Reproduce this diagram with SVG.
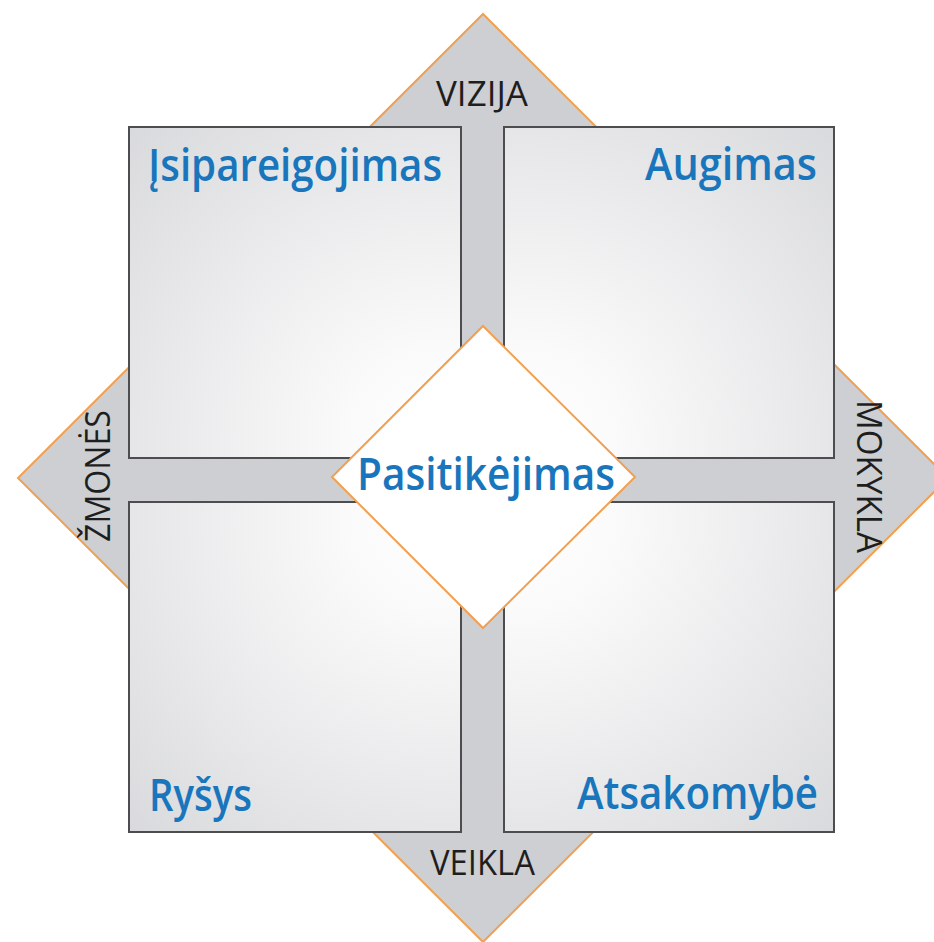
<svg xmlns="http://www.w3.org/2000/svg" width="934" height="942" viewBox="0 0 934 942">
  <style>
    .sq { stroke: #4d4d4f; stroke-width: 2; }
    .blue { font-family: "Open Sans", "Noto Sans", sans-serif; font-weight: 600; font-size: 46px; fill: #1976bc; }
    .dark { font-family: "Open Sans", "Noto Sans", sans-serif; font-size: 34px; fill: #1e1e1e; }
  </style>
  <defs>
    <radialGradient id="gTL" gradientUnits="userSpaceOnUse" cx="440" cy="440" r="470">
      <stop offset="0" stop-color="#ffffff"/>
      <stop offset="0.2" stop-color="#fafafa"/>
      <stop offset="1" stop-color="#d6d7da"/>
    </radialGradient>
    <radialGradient id="gTR" gradientUnits="userSpaceOnUse" cx="525" cy="440" r="470">
      <stop offset="0" stop-color="#ffffff"/>
      <stop offset="0.2" stop-color="#fafafa"/>
      <stop offset="1" stop-color="#d6d7da"/>
    </radialGradient>
    <radialGradient id="gBL" gradientUnits="userSpaceOnUse" cx="440" cy="520" r="470">
      <stop offset="0" stop-color="#ffffff"/>
      <stop offset="0.2" stop-color="#fafafa"/>
      <stop offset="1" stop-color="#d6d7da"/>
    </radialGradient>
    <radialGradient id="gBR" gradientUnits="userSpaceOnUse" cx="525" cy="520" r="470">
      <stop offset="0" stop-color="#ffffff"/>
      <stop offset="0.2" stop-color="#fafafa"/>
      <stop offset="1" stop-color="#d6d7da"/>
    </radialGradient>
  </defs>
  <rect width="934" height="942" fill="#ffffff"/>

  <g id="outer">
    <polygon points="483,14 948,478 483,942 18,478" fill="#cdcfd2" stroke="#f0a050" stroke-width="2"/>
    <text class="dark" x="436" y="106" textLength="92" lengthAdjust="spacingAndGlyphs">VIZIJA</text>
    <text class="dark" x="430" y="875" textLength="105" lengthAdjust="spacingAndGlyphs">VEIKLA</text>
    <text class="dark" transform="translate(110,542) rotate(-90)" x="0" y="0" textLength="132" lengthAdjust="spacingAndGlyphs">ŽMONĖS</text>
    <text class="dark" transform="translate(857,400) rotate(90)" x="0" y="0" textLength="153" lengthAdjust="spacingAndGlyphs">MOKYKLA</text>
  </g>

  <g id="sq-tl">
    <rect class="sq" x="129" y="127" width="332" height="331" fill="url(#gTL)"/>
    <text class="blue" x="148" y="181" textLength="294" lengthAdjust="spacingAndGlyphs">Įsipareigojimas</text>
  </g>
  <g id="sq-tr">
    <rect class="sq" x="504" y="127" width="330" height="331" fill="url(#gTR)"/>
    <text class="blue" x="645" y="180" textLength="172" lengthAdjust="spacingAndGlyphs">Augimas</text>
  </g>
  <g id="sq-bl">
    <rect class="sq" x="129" y="502" width="332" height="330" fill="url(#gBL)"/>
    <text class="blue" x="149" y="811" textLength="103" lengthAdjust="spacingAndGlyphs">Ryšys</text>
  </g>
  <g id="sq-br">
    <rect class="sq" x="504" y="502" width="330" height="330" fill="url(#gBR)"/>
    <text class="blue" x="577" y="809" textLength="241" lengthAdjust="spacingAndGlyphs">Atsakomybė</text>
  </g>

  <g id="center">
    <polygon points="483,326 635,477 483,628 332,477" fill="#ffffff" stroke="#f0a050" stroke-width="2"/>
    <text class="blue" x="357" y="490" textLength="258" lengthAdjust="spacingAndGlyphs">Pasitikėjimas</text>
  </g>

  <g id="connectors"/>
</svg>
